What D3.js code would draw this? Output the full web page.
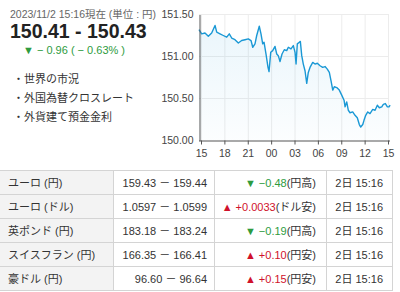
<!DOCTYPE html>
<html>
<head>
<meta charset="utf-8">
<script src="https://cdn.jsdelivr.net/npm/d3@7/dist/d3.min.js"></script>
<style>
  body { margin: 0; background: #fff; }
  svg { display: block; font-family: "Liberation Sans", Arial, "Noto Sans CJK JP", sans-serif; }
</style>
</head>
<body>
<svg id="fx" width="400" height="292"></svg>
<script>
// header info
let stamp = '2023/11/2 15:16現在 (単位 : 円)'
let quote = '150.41 - 150.43'
let change = '▼ − 0.96 ( − 0.63% )'
let links = ['・世界の市況', '・外国為替クロスレート', '・外貨建て預金金利']

// intraday chart: hours since 15:00 (11/1) and USD/JPY rate
let hours = [-0.26, 0.09, 0.51, 0.94, 1.37, 1.80, 2.02, 2.44, 2.86, 3.30, 3.63, 3.94, 4.36, 4.79,
  5.22, 5.65, 6.07, 6.42, 6.64, 6.93, 7.15, 7.48, 7.70, 7.92, 8.09, 8.34, 8.60, 8.73, 8.95,
  9.20, 9.50, 9.72, 9.92, 10.14, 10.40, 10.69, 11.00, 11.21, 11.55, 11.85, 12.07, 12.20, 12.36,
  12.62, 12.75, 12.93, 13.13, 13.35, 13.57, 13.77, 13.99, 14.34, 14.63, 14.93, 15.28, 15.62,
  15.92, 16.21, 16.47, 16.69, 16.91, 17.11, 17.42, 17.75, 18.06, 18.36, 18.49, 18.70, 18.91,
  19.13, 19.47, 19.77, 20.06, 20.32, 20.50, 20.76, 20.92, 21.14, 21.40, 21.69, 22.04, 22.34,
  22.63, 22.89, 23.20, 23.40, 23.66, 23.92, 24.13, 24.27]
let rates = [151.32, 151.27, 151.28, 151.24, 151.28, 151.37, 151.29, 151.27, 151.25, 151.23, 151.27,
  151.22, 151.20, 151.16, 151.19, 151.20, 151.21, 151.19, 151.11, 151.15, 151.25, 151.36, 151.27,
  151.15, 151.17, 151.03, 150.87, 150.82, 151.05, 151.07, 151.12, 151.03, 151.01, 150.94, 151.03,
  151.08, 151.07, 151.11, 151.09, 151.13, 151.05, 150.91, 151.15, 151.17, 151.18, 151.01, 150.91,
  150.83, 150.68, 150.81, 150.87, 150.93, 150.91, 150.92, 150.89, 150.87, 150.88, 150.85, 150.81,
  150.71, 150.60, 150.64, 150.63, 150.60, 150.54, 150.48, 150.40, 150.46, 150.36, 150.33, 150.34,
  150.30, 150.27, 150.19, 150.16, 150.19, 150.24, 150.30, 150.34, 150.32, 150.37, 150.36, 150.42,
  150.39, 150.40, 150.43, 150.44, 150.40, 150.40, 150.42]
let xTicks = [0, 3, 6, 9, 12, 15, 18, 21, 24]
let xTickLabels = ['15', '18', '21', '00', '03', '06', '09', '12', '15']
let yTicks = [150.00, 150.50, 151.00, 151.50]

// cross rate table
let pairs = ['ユーロ (円)', 'ユーロ (ドル)', '英ポンド (円)', 'スイスフラン (円)', '豪ドル (円)']
let bids = ['159.43', '1.0597', '183.18', '166.35', '96.60']
let asks = ['159.44', '1.0599', '183.24', '166.41', '96.64']
let diffs = ['−0.48', '+0.0033', '−0.19', '+0.10', '+0.15']
let notes = ['(円高)', '(ドル安)', '(円高)', '(円安)', '(円安)']
let times = ['2日 15:16', '2日 15:16', '2日 15:16', '2日 15:16', '2日 15:16']

let green = '#2e9b3e', red = '#d0112b'
let svg = d3.select('svg#fx')

// ---- header block ----
svg.append('text').attr('x', 10).attr('y', 17.5)
  .attr('font-size', 10).attr('fill', '#666')
  .attr('textLength', 146).attr('lengthAdjust', 'spacingAndGlyphs')
  .text(stamp)
svg.append('text').attr('x', 10).attr('y', 38)
  .attr('font-size', 19.5).attr('font-weight', 'bold').attr('fill', '#222').text(quote)
svg.append('text').attr('x', 23).attr('y', 54)
  .attr('font-size', 11).attr('fill', green).text(change)
svg.selectAll('.link')
  .data(links)
  .enter()
  .append('text')
  .attr('class', 'link')
  .attr('x', 13)
  .attr('y', (d, i) => 83 + i * 19)
  .attr('font-size', 11)
  .attr('fill', '#333')
  .text(d => d)

// ---- chart ----
let data = hours.map((h, i) => ({h: h, v: rates[i]}))

let xScale = d3.scaleLinear().domain([0, 24]).range([201, 388])
let yScale = d3.scaleLinear().domain([150, 151.5]).range([140.5, 14.5])

// grid
let grid = svg.append('g')
grid.selectAll('line.v')
  .data(xTicks)
  .enter()
  .append('line')
  .attr('x1', d => xScale(d) + 0.5).attr('x2', d => xScale(d) + 0.5)
  .attr('y1', yScale(151.5)).attr('y2', yScale(150))
  .attr('stroke', '#ececec')
grid.selectAll('line.h')
  .data(yTicks.slice(1))
  .enter()
  .append('line')
  .attr('x1', 199).attr('x2', xScale(24) + 1)
  .attr('y1', d => yScale(d)).attr('y2', d => yScale(d))
  .attr('stroke', '#ececec')

// area gradient
let defs = svg.append('defs')
let grad = defs.append('linearGradient').attr('id', 'fade')
  .attr('x1', 0).attr('y1', 0).attr('x2', 0).attr('y2', 1)
grad.append('stop').attr('offset', '0%').attr('stop-color', '#1c9ad8').attr('stop-opacity', 0.09)
grad.append('stop').attr('offset', '100%').attr('stop-color', '#1c9ad8').attr('stop-opacity', 0.015)

svg.append('path')
  .datum(data)
  .attr('fill', 'url(#fade)')
  .attr('d', d3.area().x(d => xScale(d.h)).y0(yScale(150)).y1(d => yScale(d.v)))

svg.append('path')
  .datum(data)
  .attr('fill', 'none')
  .attr('stroke', '#1a98d5')
  .attr('stroke-width', 1.4)
  .attr('stroke-linejoin', 'round')
  .attr('d', d3.line().x(d => xScale(d.h)).y(d => yScale(d.v)))

// axes
let xAxis = svg.append('g')
  .attr('transform', `translate(0, ${yScale(150)})`)
  .call(d3.axisBottom(xScale).tickValues(xTicks).tickSize(4)
    .tickFormat((d, i) => xTickLabels[i]))
xAxis.select('.domain').attr('d', `M199,0.5H${xScale(24) + 2}`).attr('stroke', '#555')
xAxis.selectAll('.tick line').attr('stroke', '#555')
xAxis.selectAll('.tick text').attr('font-size', 10.5).attr('fill', '#444')
  .attr('font-family', '"Liberation Sans", Arial, sans-serif').attr('dy', '0.9em')

let yAxis = svg.append('g')
  .attr('transform', 'translate(199.5, 0)')
  .call(d3.axisLeft(yScale).tickValues(yTicks).tickSize(0).tickPadding(6)
    .tickFormat(d3.format('.2f')))
yAxis.select('.domain').attr('stroke', '#555')
yAxis.selectAll('.tick text').attr('font-size', 10.5).attr('fill', '#444')
  .attr('font-family', '"Liberation Sans", Arial, sans-serif')

// ---- table ----
let colX = [0, 113, 214, 326, 392]
let rowTop = 170, rowH = 24
let rows = pairs.map((p, i) => ({pair: p, bid: bids[i], ask: asks[i], diff: diffs[i], note: notes[i], time: times[i]}))

let table = svg.append('g')
table.append('rect')
  .attr('x', colX[0]).attr('y', rowTop)
  .attr('width', colX[1] - colX[0]).attr('height', rowH * rows.length)
  .attr('fill', '#f3f3f3')

let rowG = table.selectAll('g.row')
  .data(rows)
  .enter()
  .append('g')
  .attr('class', 'row')
  .attr('transform', (d, i) => `translate(0, ${rowTop + i * rowH})`)

rowG.append('text')
  .attr('x', 8).attr('y', 16.5)
  .attr('font-size', 11).attr('fill', '#333')
  .text(d => d.pair)
rowG.append('text')
  .attr('x', 207).attr('y', 16.5).attr('text-anchor', 'end')
  .attr('font-size', 11).attr('fill', '#333')
  .text(d => `${d.bid} － ${d.ask}`)

let chg = rowG.append('text')
  .attr('x', 316).attr('y', 16.5).attr('text-anchor', 'end')
  .attr('font-size', 11)
chg.append('tspan')
  .attr('fill', d => d.diff[0] === '−' ? green : red)
  .text(d => (d.diff[0] === '−' ? '▼ ' : '▲ ') + d.diff)
chg.append('tspan').attr('fill', '#333').text(d => d.note)

rowG.append('text')
  .attr('x', 383).attr('y', 16.5).attr('text-anchor', 'end')
  .attr('font-size', 11).attr('fill', '#333')
  .text(d => d.time)

// table borders
let border = '#d4d4d4'
d3.range(rows.length + 1).forEach(i => {
  table.append('line')
    .attr('x1', 0).attr('x2', colX[4] + 0.5)
    .attr('y1', rowTop + i * rowH + 0.5).attr('y2', rowTop + i * rowH + 0.5)
    .attr('stroke', border)
})
colX.slice(1).forEach(x => {
  table.append('line')
    .attr('x1', x + 0.5).attr('x2', x + 0.5)
    .attr('y1', rowTop).attr('y2', rowTop + rowH * rows.length + 1)
    .attr('stroke', border)
})
</script>
</body>
</html>
